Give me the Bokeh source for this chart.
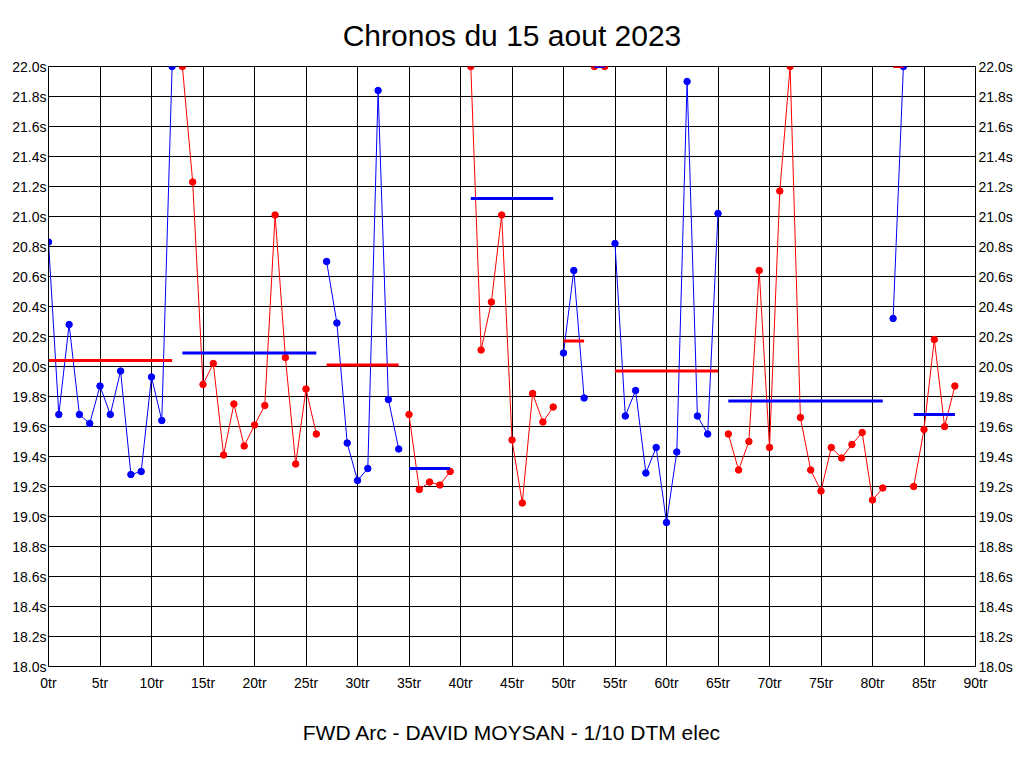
from bokeh.plotting import figure
from bokeh.models import LinearAxis, FixedTicker, PrintfTickFormatter, Range1d, Title
from bokeh.embed import file_html
from bokeh.resources import INLINE

title_text = "Chronos du 15 aout 2023"
footer_text = "FWD Arc - DAVID MOYSAN - 1/10 DTM elec"

BLUE = "#0000FF"
RED = "#FF0000"

# lap series (first lap number + lap times in seconds)
seg1_start = 0
seg1_times = [20.83, 19.68, 20.28, 19.68, 19.62, 19.87, 19.68, 19.97, 19.28, 19.30, 19.93, 19.64, 22.0]
seg2_start = 13
seg2_times = [22.0, 21.23, 19.88, 20.02, 19.41, 19.75, 19.47, 19.61, 19.74, 21.01, 20.06, 19.35, 19.85, 19.55]
seg3_start = 27
seg3_times = [20.70, 20.29, 19.49, 19.24, 19.32, 21.84, 19.78, 19.45]
seg4_start = 35
seg4_times = [19.68, 19.18, 19.23, 19.21, 19.30]
seg5_start = 41
seg5_times = [22.0, 20.11, 20.43, 21.01, 19.51, 19.09, 19.82, 19.63, 19.73]
seg6_start = 50
seg6_times = [20.09, 20.64, 19.79]
seg7_start = 53
seg7_times = [22.0, 22.0]
seg8_start = 55
seg8_times = [20.82, 19.67, 19.84, 19.29, 19.46, 18.96, 19.43, 21.90, 19.67, 19.55, 21.02]
seg9_start = 66
seg9_times = [19.55, 19.31, 19.50, 20.64, 19.46, 21.17, 22.0, 19.66, 19.31, 19.17, 19.46, 19.39, 19.48, 19.56, 19.11, 19.19]
seg10_start = 82
seg10_times = [20.32, 22.0]
seg11_start = 84
seg11_times = [19.20, 19.58, 20.18, 19.60, 19.87]

seg_colors = [BLUE, RED, BLUE, RED, RED, BLUE, RED, BLUE, RED, BLUE, RED]

# average lines per run
avg_start = [0, 13, 27, 35, 41, 50, 53, 55, 66, 82, 84]
avg_end = [12, 26, 34, 39, 49, 52, 54, 65, 81, 83, 88]
avg_value = [20.04, 20.09, 20.01, 19.32, 21.12, 20.17, 22.0, 19.97, 19.77, 22.0, 19.68]
avg_color = [RED, BLUE, RED, BLUE, BLUE, RED, BLUE, RED, BLUE, RED, BLUE]

x_ticks = [0, 5, 10, 15, 20, 25, 30, 35, 40, 45, 50, 55, 60, 65, 70, 75, 80, 85, 90]
y_ticks = [18.0, 18.2, 18.4, 18.6, 18.8, 19.0, 19.2, 19.4, 19.6, 19.8, 20.0,
           20.2, 20.4, 20.6, 20.8, 21.0, 21.2, 21.4, 21.6, 21.8, 22.0]

FONT = "Liberation Sans"

p = figure(frame_width=927, frame_height=600, output_backend="svg", toolbar_location=None,
           x_range=Range1d(0, 90), y_range=Range1d(18, 22),
           min_border_left=48, min_border_right=41, min_border_top=66, min_border_bottom=86)

p.title.text = title_text
p.title.align = "center"
p.title.text_font = FONT
p.title.text_font_size = "30px"
p.title.text_font_style = "normal"
p.title.text_color = "black"
p.title.text_line_height = 1.0
p.title.standoff = 30

p.outline_line_color = "black"
p.outline_line_width = 1
p.background_fill_color = "white"
p.border_fill_color = "white"

p.xgrid.ticker = FixedTicker(ticks=x_ticks)
p.ygrid.ticker = FixedTicker(ticks=y_ticks)
for g in (p.xgrid, p.ygrid):
    g.grid_line_color = "black"
    g.grid_line_width = 1
    g.grid_line_alpha = 1.0

def style_axis(ax, fmt, ticks, standoff):
    ax.ticker = FixedTicker(ticks=ticks)
    ax.formatter = PrintfTickFormatter(format=fmt)
    ax.major_tick_in = 0
    ax.major_tick_out = 0
    ax.minor_tick_in = 0
    ax.minor_tick_out = 0
    ax.axis_line_color = "black"
    ax.major_label_text_font = FONT
    ax.major_label_text_font_size = "14px"
    ax.major_label_text_color = "black"
    ax.major_label_standoff = standoff

style_axis(p.xaxis[0], "%dtr", x_ticks, 8)
style_axis(p.yaxis[0], "%.1fs", y_ticks, 2)
right_axis = LinearAxis()
style_axis(right_axis, "%.1fs", y_ticks, 3)
p.add_layout(right_axis, "right")

starts = [seg1_start, seg2_start, seg3_start, seg4_start, seg5_start, seg6_start,
          seg7_start, seg8_start, seg9_start, seg10_start, seg11_start]
times = [seg1_times, seg2_times, seg3_times, seg4_times, seg5_times, seg6_times,
         seg7_times, seg8_times, seg9_times, seg10_times, seg11_times]

for s, t, c in zip(starts, times, seg_colors):
    laps = [s + i for i in range(len(t))]
    p.line(laps, t, line_color=c, line_width=1)
    p.scatter(laps, t, marker="circle", size=6.5, fill_color=c, line_color=c)

p.segment(x0=avg_start, y0=avg_value, x1=avg_end, y1=avg_value,
          line_color=avg_color, line_width=3)

footer = Title(text=footer_text, align="center", text_font=FONT,
               text_font_size="21px", text_font_style="normal", text_color="black",
               standoff=50)
p.add_layout(footer, "below")

open("out.html", "w").write(file_html(p, INLINE))
